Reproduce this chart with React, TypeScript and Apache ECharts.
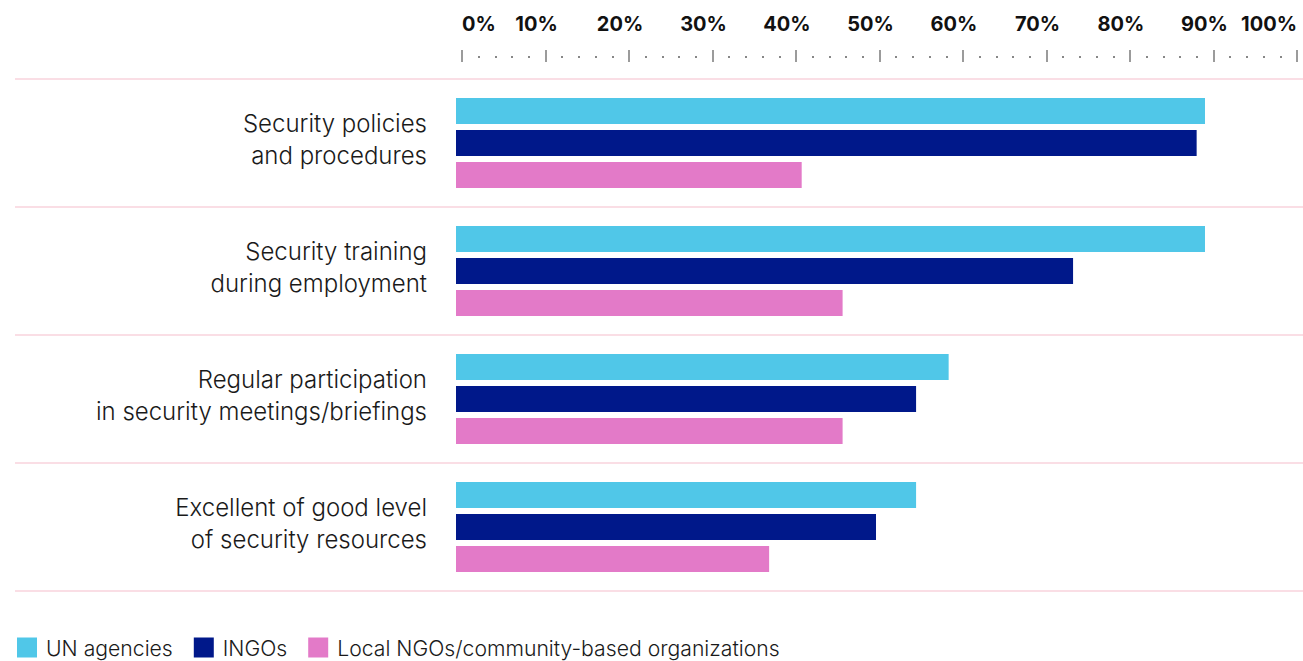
import React, { useEffect, useRef } from "react";
import * as echarts from "echarts";

const categories = [
  "Security policies\nand procedures",
  "Security training\nduring employment",
  "Regular participation\nin security meetings/briefings",
  "Excellent of good level\nof security resources",
];
const seriesNames = ["UN agencies", "INGOs", "Local NGOs/community-based organizations"];
const unAgencies = [89.7, 89.7, 59, 55.1];
const ingos = [88.7, 73.9, 55.1, 50.3];
const localNgos = [41.4, 46.3, 46.3, 37.5];
const colors = ["#50C7E8", "#00188A", "#E37AC8"];
const tickValues = [0, 10, 20, 30, 40, 50, 60, 70, 80, 90, 100];

const FONT = "Inter, 'Noto Sans', sans-serif";

export default function App() {
  const ref = useRef<HTMLDivElement>(null);
  useEffect(() => {
    if (!ref.current) return;
    const chart = echarts.init(ref.current, undefined, { renderer: "svg" });
    const values = [unAgencies, ingos, localNgos];
    chart.setOption({
      animation: false,
      backgroundColor: "#ffffff",
      textStyle: { fontFamily: FONT },
      legend: {
        left: 12,
        top: 632,
        itemWidth: 20,
        itemHeight: 20,
        itemGap: 21,
        icon: "rect",
        data: seriesNames,
        textStyle: {
          fontFamily: FONT,
          fontSize: 21.2,
          fontWeight: 300,
          color: "#1a1a1a",
          padding: [0, 0, 0, 4],
        },
      },
      grid: [
        { left: 456, right: 12, top: 79, height: 512 },
        { left: 15, right: 0, top: 79, height: 512 },
        { left: 462, right: 6, top: 61, height: 1 },
      ],
      xAxis: [
        { gridIndex: 0, type: "value", min: 0, max: 100, show: false },
        { gridIndex: 1, type: "value", min: 0, max: 100, show: false },
        {
          gridIndex: 2,
          type: "value",
          position: "top",
          min: 0,
          max: 100,
          interval: 10,
          axisLine: { show: false },
          splitLine: { show: false },
          axisTick: { show: true, length: 12, lineStyle: { color: "#7a7a7a", width: 1.5 } },
          minorTick: {
            show: true,
            splitNumber: 5,
            length: 6,
            lineStyle: { color: "#6a6a6a", width: 1.6, type: [0, 4, 2, 10] },
          },
          axisLabel: {
            show: true,
            margin: 27,
            alignMinLabel: "left",
            alignMaxLabel: "right",
            fontFamily: FONT,
            fontSize: 20,
            fontWeight: 700,
            color: "#111111",
            formatter: (v: number) =>
              v === tickValues[0] || v === tickValues[tickValues.length - 1]
                ? `{e|${v}%}`
                : `{c|${v}%}`,
            rich: {
              e: { fontFamily: FONT, fontSize: 20, fontWeight: 700, color: "#111111" },
              c: {
                fontFamily: FONT,
                fontSize: 20,
                fontWeight: 700,
                color: "#111111",
                padding: [0, 18, 0, 0],
              },
            },
          },
        },
      ],
      yAxis: [
        {
          gridIndex: 0,
          type: "category",
          inverse: true,
          data: categories,
          axisLine: { show: false },
          axisTick: { show: false },
          splitLine: { show: false },
          axisLabel: {
            margin: 29,
            fontFamily: FONT,
            fontSize: 24,
            fontWeight: 300,
            lineHeight: 32,
            color: "#1a1a1a",
            align: "right",
            formatter: (v: string) =>
              v
                .split("\n")
                .map((l) => `{a|${l}}`)
                .join("\n") + "\n{s| }",
            rich: {
              a: {
                fontFamily: FONT,
                fontSize: 24,
                fontWeight: 300,
                lineHeight: 32,
                color: "#1a1a1a",
              },
              s: { fontSize: 2, lineHeight: 7 },
            },
          },
        },
        {
          gridIndex: 1,
          type: "category",
          inverse: true,
          data: categories,
          axisLine: { show: false },
          axisTick: { show: false },
          axisLabel: { show: false },
          splitLine: { show: true, lineStyle: { color: "#F9D3DD", width: 1.5 } },
        },
        { gridIndex: 2, type: "value", show: false },
      ],
      series: seriesNames.map((name, i) => ({
        name,
        type: "bar",
        xAxisIndex: 0,
        yAxisIndex: 0,
        data: values[i],
        barWidth: 26,
        barGap: "23%",
        itemStyle: { color: colors[i] },
      })),
    });
    return () => chart.dispose();
  }, []);
  return (
    <div
      ref={ref}
      style={{ position: "fixed", left: 0, top: 0, width: 1303, height: 661 }}
    />
  );
}
